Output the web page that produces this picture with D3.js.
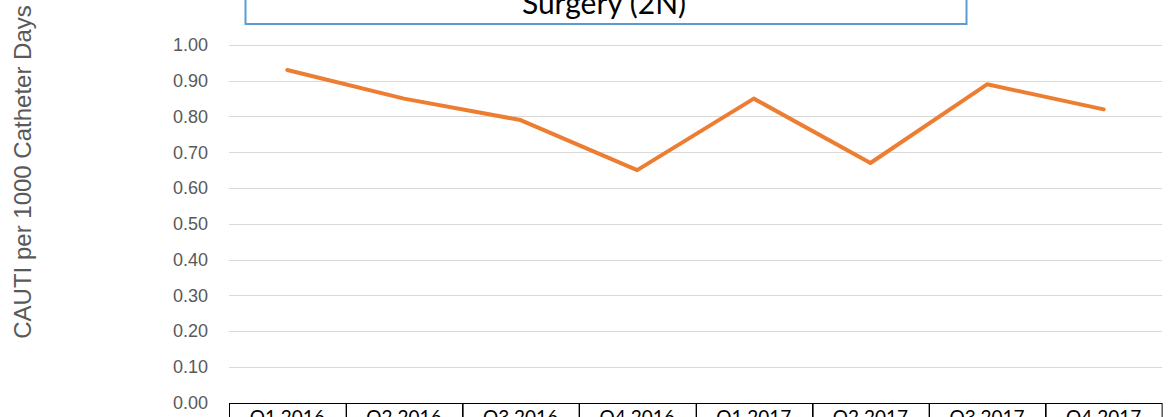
<!DOCTYPE html>
<html>
<head>
<meta charset="utf-8">
<script src="https://cdn.jsdelivr.net/npm/d3@7"></script>
<style>
  html, body { margin: 0; padding: 0; background: #fff; overflow: hidden; }
  svg { display: block; }
</style>
</head>
<body>
<svg id="chart" width="1168" height="417"></svg>
<script>
// Quarterly CAUTI rates for Surgery (2N)
const quarters = ["Q1 2016", "Q2 2016", "Q3 2016", "Q4 2016", "Q1 2017", "Q2 2017", "Q3 2017", "Q4 2017"];
const rates = [0.93, 0.85, 0.79, 0.65, 0.85, 0.67, 0.89, 0.82];
const yTicks = [0, 0.1, 0.2, 0.3, 0.4, 0.5, 0.6, 0.7, 0.8, 0.9, 1.0];
const titleText = "Surgery (2N)";
const yLabel = "CAUTI per 1000 Catheter Days";

const svg = d3.select("#chart");
const plotLeft = 229, plotRight = 1162, plotTop = 45, plotBottom = 402.5;

const x = d3.scaleBand().domain(quarters).range([plotLeft, plotRight]).padding(0);
const y = d3.scaleLinear().domain([0, 1]).range([plotBottom, plotTop]);

// gridlines + tick labels
const yAxis = d3.axisLeft(y).tickValues(yTicks).tickFormat(d3.format(".2f")).tickSize(0).tickPadding(21);
const gy = svg.append("g").attr("transform", `translate(${plotLeft},0)`).call(yAxis);
gy.select(".domain").remove();
gy.selectAll("text")
  .attr("font-family", "'Liberation Sans', Arial, sans-serif")
  .attr("font-size", 18)
  .attr("fill", "#595959");

svg.append("g").selectAll("line")
  .data(yTicks.filter(d => d > 0))
  .join("line")
  .attr("x1", plotLeft).attr("x2", plotRight)
  .attr("y1", d => Math.round(y(d)) + 0.5).attr("y2", d => Math.round(y(d)) + 0.5)
  .attr("stroke", "#d9d9d9").attr("stroke-width", 1);

// data table under the plot
const table = svg.append("g");
table.selectAll("rect")
  .data(quarters)
  .join("rect")
  .attr("x", d => Math.round(x(d)) + 0.5)
  .attr("y", Math.round(y(0)) + 0.5)
  .attr("width", x.bandwidth())
  .attr("height", 60)
  .attr("fill", "none")
  .attr("stroke", "#000").attr("stroke-width", 1);
table.selectAll("text")
  .data(quarters)
  .join("text")
  .attr("x", d => x(d) + x.bandwidth() / 2)
  .attr("y", y(0) + 21)
  .attr("text-anchor", "middle")
  .attr("font-family", "Lato, 'Open Sans', sans-serif")
  .attr("font-size", 19)
  .attr("fill", "#000")
  .text(d => d);

// series line
const line = d3.line()
  .x((d, i) => x(quarters[i]) + x.bandwidth() / 2)
  .y(d => y(d));
svg.append("path")
  .datum(rates)
  .attr("d", line)
  .attr("fill", "none")
  .attr("stroke", "#ED7D31")
  .attr("stroke-width", 4)
  .attr("stroke-linejoin", "round")
  .attr("stroke-linecap", "round");

// title box
svg.append("rect")
  .attr("x", 245.5).attr("y", -60)
  .attr("width", 721).attr("height", 84)
  .attr("fill", "#fff")
  .attr("stroke", "#5B9BD5").attr("stroke-width", 2);
svg.append("text")
  .attr("x", 604).attr("y", 14)
  .attr("text-anchor", "middle")
  .attr("font-family", "Lato, 'Open Sans', sans-serif")
  .attr("font-size", 30)
  .attr("fill", "#000")
  .text(titleText);

// y-axis title
svg.append("text")
  .attr("transform", `translate(31,172) rotate(-90)`)
  .attr("text-anchor", "middle")
  .attr("font-family", "'Liberation Sans', Arial, sans-serif")
  .attr("font-size", 24)
  .attr("fill", "#595959")
  .text(yLabel);
</script>
</body>
</html>
